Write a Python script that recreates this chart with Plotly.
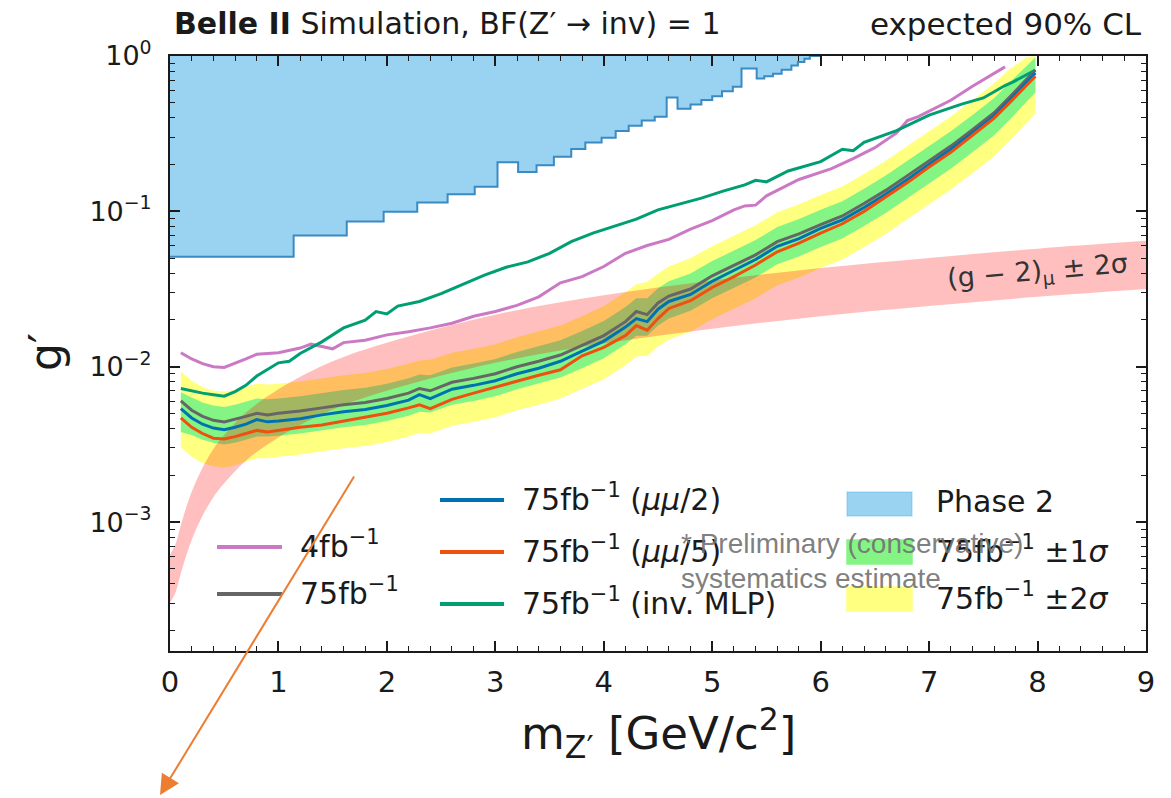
import math
import plotly.graph_objects as go

# ---------------- data ----------------
# mass grid for the 75 fb^-1 expected limits and bands  [GeV/c^2]
X = [0.1, 0.2, 0.3, 0.4, 0.5, 0.6, 0.7, 0.8, 0.9, 1.0, 1.2, 1.4, 1.6, 1.8, 2.0, 2.2, 2.3, 2.4,
     2.6, 2.8, 3.0, 3.2, 3.4, 3.6, 3.8, 4.0, 4.2, 4.3, 4.4, 4.5, 4.6, 4.8, 5.0, 5.2, 5.4, 5.6,
     5.8, 6.0, 6.2, 6.4, 6.6, 6.8, 7.0, 7.2, 7.4, 7.6, 7.75, 7.9, 7.98]
# log10(g') values
gray_log = [-2.22, -2.28, -2.32, -2.345, -2.355, -2.34, -2.32, -2.30, -2.31, -2.30, -2.285, -2.265,
            -2.245, -2.23, -2.205, -2.17, -2.14, -2.155, -2.10, -2.075, -2.045, -2.00, -1.965, -1.925,
            -1.865, -1.80, -1.71, -1.645, -1.665, -1.59, -1.545, -1.50, -1.415, -1.35, -1.28, -1.195,
            -1.145, -1.085, -1.03, -0.95, -0.865, -0.77, -0.675, -0.58, -0.475, -0.365, -0.26, -0.15, -0.09]
blue_log = [-2.27, -2.33, -2.37, -2.395, -2.405, -2.39, -2.37, -2.34, -2.355, -2.35, -2.335, -2.31,
            -2.29, -2.275, -2.25, -2.215, -2.18, -2.205, -2.145, -2.12, -2.09, -2.045, -2.01, -1.965,
            -1.90, -1.835, -1.745, -1.69, -1.71, -1.63, -1.58, -1.535, -1.45, -1.38, -1.31, -1.225,
            -1.175, -1.11, -1.055, -0.975, -0.89, -0.795, -0.70, -0.60, -0.495, -0.385, -0.28, -0.17, -0.11]
orange_log = [-2.33, -2.39, -2.43, -2.46, -2.465, -2.45, -2.43, -2.41, -2.42, -2.41, -2.39, -2.375,
              -2.35, -2.325, -2.30, -2.265, -2.245, -2.27, -2.21, -2.17, -2.13, -2.09, -2.055, -2.02,
              -1.93, -1.875, -1.80, -1.735, -1.765, -1.69, -1.625, -1.575, -1.49, -1.42, -1.345, -1.26,
              -1.205, -1.14, -1.08, -1.00, -0.91, -0.815, -0.715, -0.62, -0.51, -0.40, -0.295, -0.19, -0.13]
ytop_log = [-2.03, -2.09, -2.13, -2.155, -2.16, -2.15, -2.13, -2.11, -2.115, -2.11, -2.095, -2.075,
            -2.055, -2.04, -2.015, -1.98, -1.96, -1.955, -1.91, -1.885, -1.855, -1.81, -1.775, -1.735,
            -1.675, -1.61, -1.52, -1.47, -1.455, -1.40, -1.355, -1.30, -1.225, -1.16, -1.09, -1.005,
            -0.955, -0.895, -0.84, -0.76, -0.675, -0.58, -0.485, -0.39, -0.285, -0.175, -0.08, -0.01, 0.0]
gtop_log = [-2.165, -2.20, -2.23, -2.25, -2.26, -2.245, -2.225, -2.205, -2.21, -2.205, -2.19, -2.17,
            -2.15, -2.135, -2.11, -2.075, -2.05, -2.055, -2.005, -1.98, -1.95, -1.905, -1.87, -1.83,
            -1.77, -1.705, -1.615, -1.56, -1.56, -1.495, -1.45, -1.40, -1.32, -1.255, -1.185, -1.10,
            -1.05, -0.99, -0.935, -0.855, -0.77, -0.675, -0.58, -0.485, -0.38, -0.27, -0.165, -0.06, -0.01]
gbot_log = [-2.42, -2.44, -2.47, -2.49, -2.50, -2.49, -2.47, -2.45, -2.45, -2.445, -2.43, -2.41,
            -2.39, -2.375, -2.35, -2.315, -2.29, -2.295, -2.245, -2.22, -2.19, -2.145, -2.11, -2.07,
            -2.01, -1.945, -1.855, -1.80, -1.80, -1.735, -1.69, -1.64, -1.56, -1.495, -1.425, -1.34,
            -1.29, -1.23, -1.175, -1.095, -1.01, -0.915, -0.82, -0.725, -0.62, -0.51, -0.405, -0.295, -0.235]
ybot_log = [-2.52, -2.58, -2.62, -2.64, -2.65, -2.635, -2.61, -2.59, -2.59, -2.58, -2.565, -2.545,
            -2.525, -2.51, -2.485, -2.45, -2.425, -2.43, -2.38, -2.355, -2.325, -2.28, -2.245, -2.205,
            -2.145, -2.08, -1.99, -1.935, -1.93, -1.87, -1.825, -1.775, -1.695, -1.63, -1.56, -1.475,
            -1.425, -1.365, -1.31, -1.23, -1.145, -1.05, -0.955, -0.86, -0.755, -0.645, -0.54, -0.43, -0.37]

# 4 fb^-1 expected limit
Xp = [0.1, 0.2, 0.3, 0.4, 0.5, 0.6, 0.7, 0.8, 1.0, 1.2, 1.3, 1.4, 1.5, 1.6, 1.8, 2.0, 2.2, 2.4,
      2.6, 2.8, 3.0, 3.2, 3.4, 3.6, 3.8, 4.0, 4.2, 4.4, 4.6, 4.8, 5.0, 5.2, 5.3, 5.4, 5.5, 5.8,
      6.1, 6.3, 6.5, 6.7, 6.8, 6.9, 7.0, 7.2, 7.4, 7.5, 7.7]
purple_log = [-1.91, -1.95, -1.98, -2.0, -2.005, -1.98, -1.95, -1.92, -1.91, -1.88, -1.855, -1.87,
              -1.885, -1.845, -1.83, -1.795, -1.775, -1.75, -1.72, -1.675, -1.645, -1.605, -1.55, -1.46,
              -1.42, -1.355, -1.27, -1.22, -1.18, -1.115, -1.06, -0.99, -0.965, -0.96, -0.90, -0.795,
              -0.725, -0.66, -0.59, -0.495, -0.415, -0.39, -0.355, -0.285, -0.195, -0.155, -0.07]

# 75 fb^-1 (inv. MLP)
Xg = [0.1, 0.2, 0.3, 0.4, 0.5, 0.6, 0.7, 0.8, 0.9, 1.0, 1.1, 1.2, 1.4, 1.6, 1.8, 1.9, 2.0, 2.1,
      2.3, 2.5, 2.7, 2.9, 3.1, 3.3, 3.5, 3.7, 3.9, 4.1, 4.3, 4.5, 4.7, 4.9, 5.1, 5.3, 5.4, 5.5,
      5.7, 5.9, 6.0, 6.2, 6.3, 6.4, 6.7, 7.0, 7.3, 7.5, 7.7, 7.78, 7.9, 7.98]
mlp_log = [-2.14, -2.155, -2.17, -2.18, -2.19, -2.16, -2.12, -2.06, -2.02, -1.975, -1.965, -1.915,
           -1.84, -1.75, -1.70, -1.645, -1.66, -1.61, -1.58, -1.53, -1.47, -1.41, -1.36, -1.325,
           -1.27, -1.195, -1.14, -1.095, -1.05, -0.99, -0.955, -0.915, -0.87, -0.83, -0.80, -0.81,
           -0.74, -0.70, -0.68, -0.60, -0.61, -0.555, -0.48, -0.38, -0.31, -0.27, -0.19, -0.165, -0.12, -0.09]

# (g-2)_mu +- 2 sigma band
Xg2 = [0.0, 0.05, 0.1, 0.15, 0.2, 0.3, 0.4, 0.5, 0.7, 1.0, 1.5, 2.0, 3.0, 4.0, 5.0, 6.0, 7.0, 8.0, 9.0]
g2_up_log = [-3.21, -3.145, -3.02, -2.905, -2.805, -2.65, -2.53, -2.44, -2.295, -2.145, -1.965,
             -1.845, -1.665, -1.54, -1.445, -1.365, -1.30, -1.24, -1.19]
g2_lo_log = [-3.52, -3.455, -3.33, -3.215, -3.115, -2.96, -2.84, -2.75, -2.605, -2.455, -2.275,
             -2.155, -1.975, -1.85, -1.755, -1.675, -1.61, -1.55, -1.50]

# Phase 2 excluded region (step boundary: left edge of each bin, g' level)
p2_x = [0.0, 1.14, 1.63, 1.97, 2.28, 2.56, 2.81, 3.02, 3.21, 3.38, 3.54, 3.70, 3.83, 3.98, 4.11,
        4.23, 4.35, 4.47, 4.58, 4.68, 4.80, 4.90, 5.00, 5.09, 5.19, 5.27, 5.41, 5.48, 5.56, 5.64,
        5.73, 5.79, 5.85, 5.90]
p2_y = [0.051, 0.070, 0.086, 0.0995, 0.114, 0.129, 0.144, 0.207, 0.179, 0.198, 0.225, 0.252, 0.277,
        0.298, 0.329, 0.356, 0.385, 0.406, 0.541, 0.457, 0.488, 0.520, 0.551, 0.594, 0.633, 0.83,
        0.716, 0.74, 0.77, 0.817, 0.87, 0.916, 0.96, 1.0]

y_major = [1e-3, 1e-2, 1e-1, 1.0]
y_major_text = ["10<sup>−3</sup>", "10<sup>−2</sup>", "10<sup>−1</sup>", "10<sup>0</sup>"]

g2_label_x, g2_label_y = 8.0, 0.0402


def lin(v):
    return [10 ** a for a in v]


FONT = "DejaVu Sans, sans-serif"
INK = "#1a1a1a"

C_PURPLE = "#CC79C5"
C_GRAY = "#666666"
C_BLUE = "#0072B2"
C_ORANGE = "#F0500F"
C_GREEN = "#009E73"
C_BAND1 = "#84F584"
C_BAND2 = "#FFFF80"
C_PINK = "rgba(255,0,0,0.25)"
C_P2 = "rgba(86,180,233,0.6)"
C_P2_EDGE = "#3A8AC4"

fig = go.Figure()

# 2 sigma band
fig.add_trace(go.Scatter(x=X, y=lin(ybot_log), mode="lines", line=dict(width=0), hoverinfo="skip"))
fig.add_trace(go.Scatter(x=X, y=lin(ytop_log), mode="lines", line=dict(width=0), fill="tonexty",
                         fillcolor=C_BAND2, hoverinfo="skip"))
# 1 sigma band
fig.add_trace(go.Scatter(x=X, y=lin(gbot_log), mode="lines", line=dict(width=0), hoverinfo="skip"))
fig.add_trace(go.Scatter(x=X, y=lin(gtop_log), mode="lines", line=dict(width=0), fill="tonexty",
                         fillcolor=C_BAND1, hoverinfo="skip"))
# (g-2) band
fig.add_trace(go.Scatter(x=Xg2, y=lin(g2_lo_log), mode="lines", line=dict(width=0, shape="spline"),
                         hoverinfo="skip"))
fig.add_trace(go.Scatter(x=Xg2, y=lin(g2_up_log), mode="lines", line=dict(width=0, shape="spline"),
                         fill="tonexty", fillcolor=C_PINK, hoverinfo="skip"))

# limit lines
fig.add_trace(go.Scatter(x=Xp, y=lin(purple_log), mode="lines", line=dict(color=C_PURPLE, width=3)))
fig.add_trace(go.Scatter(x=Xg, y=lin(mlp_log), mode="lines", line=dict(color=C_GREEN, width=3)))
fig.add_trace(go.Scatter(x=X, y=lin(gray_log), mode="lines", line=dict(color=C_GRAY, width=3)))
fig.add_trace(go.Scatter(x=X, y=lin(blue_log), mode="lines", line=dict(color=C_BLUE, width=3)))
fig.add_trace(go.Scatter(x=X, y=lin(orange_log), mode="lines", line=dict(color=C_ORANGE, width=3)))

# Phase 2 region (fill up to top of axis) and its step edge
fig.add_trace(go.Scatter(x=p2_x + [p2_x[-1] + 0.1, p2_x[0]], y=p2_y + [1.0, 1.0], mode="lines",
                         line=dict(width=0, shape="hv"), fill="toself", fillcolor=C_P2,
                         hoverinfo="skip"))
fig.add_trace(go.Scatter(x=p2_x + [p2_x[-1] + 0.1], y=p2_y + [1.0], mode="lines",
                         line=dict(color=C_P2_EDGE, width=2, shape="hv"), hoverinfo="skip"))

# ---------------- layout ----------------
L, R, T, B = 170, 1146, 56, 651


def PX(px):
    return (px - L) / (R - L)


def PY(py):
    return (B - py) / (B - T)


minor_y = [m * 10 ** e for e in (-4, -3, -2, -1) for m in range(2, 10)]

fig.update_layout(
    width=1171, height=798,
    margin=dict(l=L, r=1171 - R, t=T, b=798 - B),
    paper_bgcolor="white", plot_bgcolor="white",
    showlegend=False,
    font=dict(family=FONT, color=INK),
    xaxis=dict(range=[0, 9], showline=True, linecolor=INK, linewidth=2, mirror="ticks",
               ticks="inside", ticklen=10, tickwidth=1.5, tickcolor=INK, tick0=0, dtick=1,
               minor=dict(dtick=0.2, ticks="inside", ticklen=5, tickwidth=1.2, tickcolor=INK),
               showgrid=False, zeroline=False, tickfont=dict(size=29, color=INK),
               ticklabelstandoff=4),
    yaxis=dict(type="log", range=[-3.83, 0], showline=True, linecolor=INK, linewidth=2,
               mirror="ticks", ticks="inside", ticklen=10, tickwidth=1.5, tickcolor=INK,
               tickmode="array", tickvals=y_major, ticktext=y_major_text,
               minor=dict(tickmode="array", tickvals=minor_y, ticks="inside", ticklen=5,
                          tickwidth=1.2, tickcolor=INK),
               showgrid=False, zeroline=False, tickfont=dict(size=27, color=INK),
               ticklabelstandoff=11),
)

ann = []
# titles
ann.append(dict(x=PX(172), y=PY(24), xref="paper", yref="paper", xanchor="left", yanchor="middle",
                text="<b>Belle II</b> Simulation, BF(Z′ → inv) = 1", showarrow=False,
                font=dict(size=30, color=INK)))
ann.append(dict(x=PX(1144), y=PY(24), xref="paper", yref="paper", xanchor="right", yanchor="middle",
                text="expected 90% CL", showarrow=False, font=dict(size=31, color=INK)))
# axis titles
ann.append(dict(x=PX(658), y=PY(733), xref="paper", yref="paper", xanchor="center", yanchor="middle",
                text="m<sub>Z′</sub> [GeV/c<sup>2</sup>]", showarrow=False, font=dict(size=45, color=INK)))
ann.append(dict(x=PX(45), y=PY(352), xref="paper", yref="paper", xanchor="center", yanchor="middle",
                text="g′", textangle=-90, showarrow=False, font=dict(size=44, color=INK)))
# (g-2) label (log axis: annotation y given as log10)
ann.append(dict(x=g2_label_x, y=math.log10(g2_label_y), xref="x", yref="y", xanchor="center",
                yanchor="middle", text="(g − 2)<sub>μ</sub> ± 2σ", textangle=-5, showarrow=False,
                font=dict(size=27, color="#333333")))

shapes = []
LEGF = 30
leg_lines = [
    (217, 282, 547, C_PURPLE, "4fb<sup>−1</sup>", 298),
    (217, 282, 594, C_GRAY, "75fb<sup>−1</sup>", 298),
    (440, 504, 500, C_BLUE, "75fb<sup>−1</sup> (<i>μμ</i>/2)", 520),
    (440, 504, 552, C_ORANGE, "75fb<sup>−1</sup> (<i>μμ</i>/5)", 520),
    (440, 504, 604, C_GREEN, "75fb<sup>−1</sup> (inv. MLP)", 520),
]
for x0, x1, yy, col, txt, tx in leg_lines:
    shapes.append(dict(type="line", xref="paper", yref="paper", x0=PX(x0), x1=PX(x1),
                       y0=PY(yy), y1=PY(yy), line=dict(color=col, width=4)))
    ann.append(dict(x=PX(tx), y=PY(yy - 3), xref="paper", yref="paper", xanchor="left",
                    yanchor="middle", text=txt, showarrow=False, font=dict(size=LEGF, color=INK)))
leg_boxes = [
    (504, C_P2, "rgba(86,180,233,0.35)", "Phase 2"),
    (552, C_BAND1, C_BAND1, "75fb<sup>−1</sup> ±1<i>σ</i>"),
    (599, C_BAND2, C_BAND2, "75fb<sup>−1</sup> ±2<i>σ</i>"),
]
for yy, col, edge, txt in leg_boxes:
    shapes.append(dict(type="rect", xref="paper", yref="paper", x0=PX(847), x1=PX(912),
                       y0=PY(yy + 12), y1=PY(yy - 12), fillcolor=col, line=dict(color=edge, width=1.5)))
    ann.append(dict(x=PX(934), y=PY(yy - 3), xref="paper", yref="paper", xanchor="left",
                    yanchor="middle", text=txt, showarrow=False, font=dict(size=LEGF, color=INK)))

# overlaid note
NOTEF = dict(size=28, color="rgba(115,115,115,0.92)",
             family="Liberation Sans Narrow, Liberation Sans, Arial")
ann.append(dict(x=PX(679), y=PY(543), xref="paper", yref="paper", xanchor="left", yanchor="middle",
                text="* Preliminary (conservative)", showarrow=False, font=NOTEF))
ann.append(dict(x=PX(679), y=PY(578), xref="paper", yref="paper", xanchor="left", yanchor="middle",
                text="systematics estimate", showarrow=False, font=NOTEF))

# orange arrow
ann.append(dict(x=PX(160), y=PY(795), xref="paper", yref="paper", ax=355 - 160, ay=475 - 795,
                axref="pixel", ayref="pixel", text="", showarrow=True, arrowhead=2, arrowsize=2,
                arrowwidth=2, arrowcolor="#ED7D31"))

fig.update_layout(annotations=ann, shapes=shapes)
fig.write_html("out.html")
